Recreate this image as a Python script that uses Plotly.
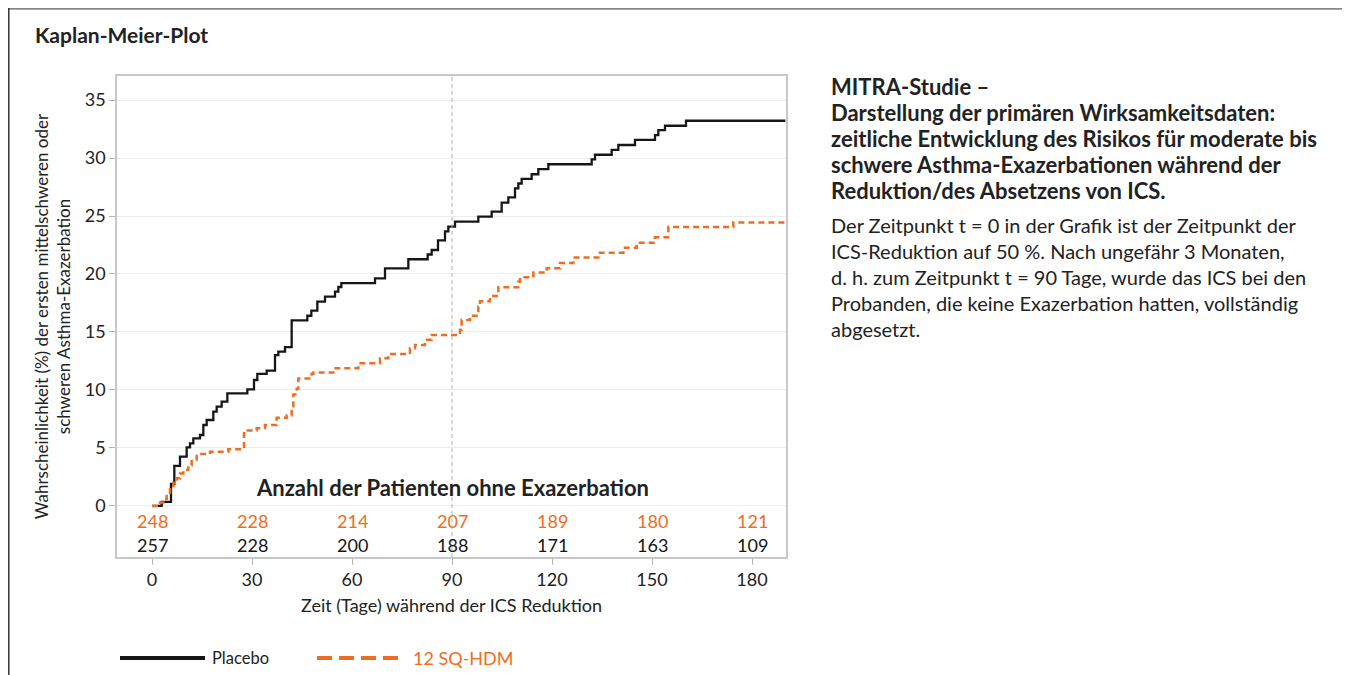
import plotly.graph_objects as go

# ---------------- data ----------------
placebo_days = [0, 2.9, 5.7, 6.7, 8.4, 10.4, 11.4, 12.4, 14.4, 15.4,
                16.4, 18.4, 19.4, 20.9, 22.6, 28.6, 30.6, 31.6, 34.4, 36.9,
                37.9, 39.9, 41.9, 46.6, 47.8, 49.6, 51.9, 54.9, 55.9, 56.8,
                66.9, 69.9, 76.9, 82.7, 83.9, 85.8, 87.9, 88.9, 90.9, 97.9,
                101.9, 104.9, 106.9, 108.9, 109.9, 110.9, 113.9, 115.9, 118.9, 131.9,
                132.9, 137.9, 139.9, 144.9, 150.9, 151.9, 153.9, 160.2, 190]
placebo_pct = [0, 0.35, 1.9, 3.45, 4.25, 5.05, 5.4, 5.83, 6.12, 6.98,
               7.41, 8.13, 8.56, 8.99, 9.71, 10.06, 10.86, 11.38, 11.66, 13.0,
               13.3, 13.7, 16.0, 16.4, 16.84, 17.62, 18.05, 18.48, 18.88, 19.22,
               19.63, 20.49, 21.27, 21.68, 22.07, 22.9, 23.68, 24.08, 24.51, 24.94,
               25.37, 26.15, 26.6, 27.38, 27.8, 28.2, 28.6, 29.04, 29.46, 29.88,
               30.28, 30.7, 31.12, 31.56, 31.98, 32.4, 32.78, 33.21, 33.21]

hdm_days = [0, 2.4, 3.4, 4.4, 5.4, 6.4, 7.4, 8.4, 9.4, 10.9,
            11.9, 13.4, 17.4, 22.9, 26.4, 27.6, 31.4, 33.9, 37.4, 40.4,
            41.9, 42.4, 43.4, 43.9, 47.9, 48.4, 54.4, 61.9, 68.4, 70.9,
            77.4, 78.9, 81.9, 83.9, 92.4, 92.9, 95.4, 97.9, 98.4, 101.4,
            103.9, 109.9, 110.4, 114.4, 118.4, 122.4, 126.4, 134.4, 141.4, 145.4,
            150.9, 154.9, 174.4, 190]
hdm_pct = [0, 0.3, 0.6, 1.0, 1.6, 2.0, 2.4, 2.8, 3.1, 3.5,
           4.0, 4.47, 4.68, 4.9, 5.1, 6.5, 6.7, 6.98, 7.6, 7.8,
           8.6, 9.6, 10.1, 11.0, 11.4, 11.5, 11.87, 12.3, 12.73, 13.1,
           13.6, 13.88, 14.33, 14.74, 15.2, 16.03, 16.4, 17.18, 17.65, 18.1,
           18.85, 19.33, 19.71, 20.12, 20.5, 20.95, 21.42, 21.84, 22.27, 22.7,
           23.16, 24.05, 24.45, 24.45]

risk_days = [0, 30, 60, 90, 120, 150, 180]
risk_hdm = [248, 228, 214, 207, 189, 180, 121]
risk_placebo = [257, 228, 200, 188, 171, 163, 109]

x_ticks = [0, 30, 60, 90, 120, 150, 180]
y_ticks = [0, 5, 10, 15, 20, 25, 30, 35]
reduction_end_day = 90

series_names = ["Placebo", "12 SQ-HDM"]

title_text = "Kaplan-Meier-Plot"
x_title = "Zeit (Tage) während der ICS Reduktion"
y_title = "Wahrscheinlichkeit (%) der ersten mittelschweren oder<br>schweren Asthma-Exazerbation"
risk_title = "Anzahl der Patienten ohne Exazerbation"
side_bold = ["MITRA-Studie –",
             "Darstellung der primären Wirksamkeitsdaten:",
             "zeitliche Entwicklung des Risikos für moderate bis",
             "schwere Asthma-Exazerbationen während der",
             "Reduktion/des Absetzens von ICS."]
side_text = ["Der Zeitpunkt t = 0 in der Grafik ist der Zeitpunkt der",
             "ICS-Reduktion auf 50 %. Nach ungefähr 3 Monaten,",
             "d. h. zum Zeitpunkt t = 90 Tage, wurde das ICS bei den",
             "Probanden, die keine Exazerbation hatten, vollständig",
             "abgesetzt."]

# ---------------- styling ----------------
FONT = "Lato"
BLACK = "#161616"
ORANGE = "#EE6D22"
TXT = "#222222"
OFF = 8                      # page body margin of the html page
W, H = 1350 - OFF, 675 - OFF
L, R, T, B = 117, 786, 76, 557  # plot area in page pixels


def px_x(px):
    return (px - L) / (R - L)


def px_y(py):
    return (B - py) / (B - T)


fig = go.Figure()
fig.add_trace(go.Scatter(x=placebo_days, y=placebo_pct, mode="lines", name=series_names[0],
                         line=dict(color=BLACK, width=2.3, shape="hv"), showlegend=False))
fig.add_trace(go.Scatter(x=hdm_days, y=hdm_pct, mode="lines", name=series_names[1],
                         line=dict(color=ORANGE, width=2.5, shape="hv", dash="6px,4px"),
                         showlegend=False))

annotations = []
# numbers at risk
for d, a, b in zip(risk_days, risk_hdm, risk_placebo):
    annotations.append(dict(x=d, y=-1.3, xref="x", yref="y", text=str(a), showarrow=False,
                            font=dict(family=FONT, size=18, color=ORANGE)))
    annotations.append(dict(x=d, y=-3.35, xref="x", yref="y", text=str(b), showarrow=False,
                            font=dict(family=FONT, size=18, color=BLACK)))
annotations.append(dict(x=reduction_end_day, y=1.55, xref="x", yref="y", text="<b>%s</b>" % risk_title,
                        showarrow=False, font=dict(family=FONT, size=22, color=TXT)))

# title
annotations.append(dict(x=px_x(33), y=px_y(34), xref="paper", yref="paper", xanchor="left",
                        yanchor="middle", text="<b>%s</b>" % title_text, showarrow=False,
                        font=dict(family=FONT, size=21, color=TXT)))

# side text
for i, line in enumerate(side_bold):
    annotations.append(dict(x=px_x(829), y=px_y(86 + 26 * i), xref="paper", yref="paper",
                            xanchor="left", yanchor="middle", text="<b>%s</b>" % line,
                            showarrow=False, font=dict(family=FONT, size=22, color=TXT)))
for i, line in enumerate(side_text):
    annotations.append(dict(x=px_x(829), y=px_y(225 + 26 * i), xref="paper", yref="paper",
                            xanchor="left", yanchor="middle", text=line,
                            showarrow=False, font=dict(family=FONT, size=20, color=TXT)))

# legend labels
annotations.append(dict(x=px_x(210), y=px_y(658), xref="paper", yref="paper", xanchor="left",
                        yanchor="middle", text=series_names[0], showarrow=False,
                        font=dict(family=FONT, size=16.5, color=TXT)))
annotations.append(dict(x=px_x(411), y=px_y(658), xref="paper", yref="paper", xanchor="left",
                        yanchor="middle", text=series_names[1], showarrow=False,
                        font=dict(family=FONT, size=18, color=ORANGE)))

shapes = [
    # 90-day reference line
    dict(type="line", xref="x", yref="paper", x0=reduction_end_day, x1=reduction_end_day,
         y0=0, y1=1, line=dict(color="#b0b0b0", width=1, dash="4px,3px")),
    # legend samples
    dict(type="line", xref="paper", yref="paper", x0=px_x(120), x1=px_x(205),
         y0=px_y(658), y1=px_y(658), line=dict(color=BLACK, width=4)),
    dict(type="line", xref="paper", yref="paper", x0=px_x(317), x1=px_x(402),
         y0=px_y(658), y1=px_y(658), line=dict(color=ORANGE, width=4, dash="15px,7px")),
    # outer frame
    dict(type="line", xref="paper", yref="paper", x0=px_x(OFF), x1=px_x(1350),
         y0=px_y(OFF + 0.8), y1=px_y(OFF + 0.8), line=dict(color="#888888", width=2)),
    dict(type="line", xref="paper", yref="paper", x0=px_x(OFF + 0.8), x1=px_x(OFF + 0.8),
         y0=px_y(OFF), y1=px_y(675), line=dict(color="#333333", width=1.5)),
]

fig.update_layout(
    width=W, height=H,
    margin=dict(l=L - OFF, r=1350 - R, t=T - OFF, b=675 - B, pad=0),
    paper_bgcolor="white", plot_bgcolor="white",
    font=dict(family=FONT, color=TXT),
    annotations=annotations, shapes=shapes,
    showlegend=False,
)
fig.update_xaxes(range=[-10.5, 190.2], tickvals=x_ticks, ticks="outside", ticklen=6,
                 tickcolor="#b5b5b5", tickwidth=1, showgrid=False, zeroline=False,
                 showline=True, mirror=True, linecolor="#c8c8c8", linewidth=1.5,
                 tickfont=dict(family=FONT, size=18, color=TXT),
                 title=dict(text=x_title, font=dict(family=FONT, size=18, color=TXT), standoff=10))
fig.update_yaxes(range=[-4.4, 37.07], tickvals=y_ticks, ticks="outside", ticklen=6,
                 tickcolor="#b5b5b5", tickwidth=1, showgrid=True, gridcolor="#ececec",
                 gridwidth=1, zeroline=False, showline=True, mirror=True,
                 linecolor="#c8c8c8", linewidth=1.5,
                 tickfont=dict(family=FONT, size=18, color=TXT),
                 title=dict(text=y_title, font=dict(family=FONT, size=17, color=TXT), standoff=10))

fig.write_html("out.html")
